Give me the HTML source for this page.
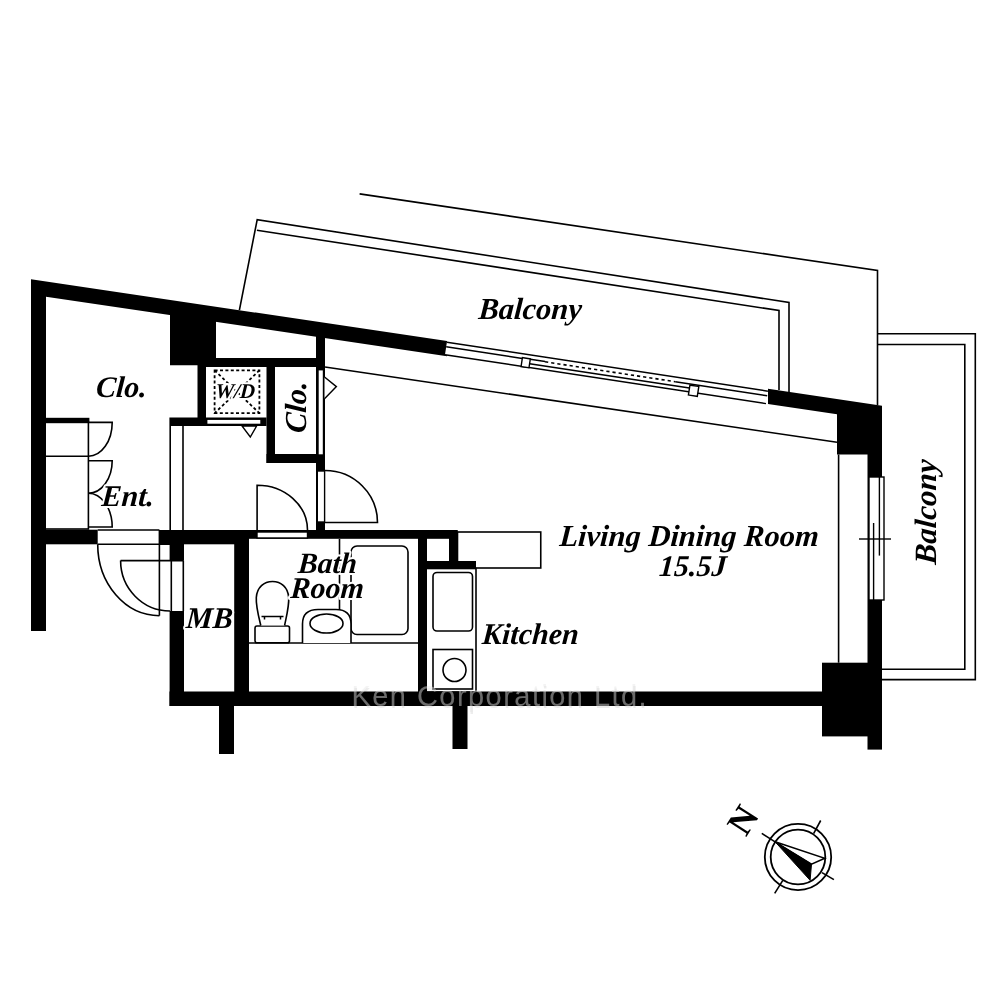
<!DOCTYPE html>
<html><head><meta charset="utf-8"><style>
html,body{margin:0;padding:0;background:#fff;width:1000px;height:1000px;overflow:hidden}
svg{display:block;will-change:transform}
</style></head><body>
<svg width="1000" height="1000" viewBox="0 0 1000 1000">
<rect width="1000" height="1000" fill="#fff"/>
<path d="M359.60,193.90 L877.50,270.50 L877.50,405.00" fill="none" stroke="#000" stroke-width="1.6"/>
<path d="M239.40,310.10 L257.20,219.60 L789.00,302.50 L789.00,392.50" fill="none" stroke="#000" stroke-width="1.6"/>
<path d="M256.90,230.20 L779.00,310.50 L779.00,390.00" fill="none" stroke="#000" stroke-width="1.6"/>
<path d="M877.50,333.75 L975.30,333.75 L975.30,679.60 L882.00,679.60" fill="none" stroke="#000" stroke-width="1.6"/>
<path d="M877.50,344.50 L964.80,344.50 L964.80,669.30 L882.00,669.30" fill="none" stroke="#000" stroke-width="1.6"/>
<rect x="31.00" y="294.64" width="15.00" height="336.36" fill="#000"/>
<polygon points="31.00,279.21 447.00,341.07 447.00,356.27 46.00,296.64 31.00,296.64" fill="#000"/>
<polygon points="768.00,388.80 882.00,405.75 882.00,477.00 867.50,477.00 867.50,454.50 837.00,454.50 837.00,414.26 768.00,404.00" fill="#000"/>
<polygon points="170.00,314.08 216.00,320.92 216.00,365.20 170.00,365.20" fill="#000"/>
<rect x="197.50" y="363.00" width="8.50" height="63.00" fill="#000"/>
<rect x="206.00" y="358.00" width="119.00" height="9.00" fill="#000"/>
<rect x="316.00" y="335.79" width="9.00" height="195.21" fill="#000"/>
<rect x="266.50" y="366.00" width="8.50" height="97.00" fill="#000"/>
<rect x="266.50" y="454.00" width="58.50" height="9.00" fill="#000"/>
<rect x="169.40" y="417.50" width="97.10" height="8.50" fill="#000"/>
<rect x="44.50" y="417.80" width="44.90" height="4.60" fill="#000"/>
<rect x="31.00" y="529.70" width="66.70" height="14.60" fill="#000"/>
<rect x="159.40" y="530.00" width="89.60" height="14.30" fill="#000"/>
<rect x="169.60" y="544.00" width="14.40" height="16.60" fill="#000"/>
<rect x="169.60" y="611.00" width="14.40" height="95.00" fill="#000"/>
<rect x="234.20" y="544.00" width="14.80" height="162.00" fill="#000"/>
<rect x="249.00" y="530.00" width="208.50" height="8.80" fill="#000"/>
<rect x="418.00" y="530.00" width="9.00" height="162.00" fill="#000"/>
<rect x="418.00" y="561.00" width="58.00" height="7.50" fill="#000"/>
<rect x="449.00" y="530.00" width="8.50" height="38.50" fill="#000"/>
<rect x="169.50" y="691.50" width="652.50" height="14.50" fill="#000"/>
<rect x="219.00" y="706.00" width="15.00" height="48.00" fill="#000"/>
<rect x="452.50" y="706.00" width="15.00" height="43.00" fill="#000"/>
<rect x="822.00" y="662.70" width="60.00" height="73.70" fill="#000"/>
<rect x="867.50" y="600.00" width="14.50" height="149.60" fill="#000"/>
<rect x="867.50" y="477.00" width="14.50" height="123.00" fill="#000"/>
<rect x="206.70" y="419.20" width="54.30" height="5.20" rx="0" fill="#fff" stroke="#000" stroke-width="1.4"/>
<rect x="318.00" y="369.70" width="5.50" height="85.30" rx="0" fill="#fff" stroke="#000" stroke-width="1.4"/>
<rect x="317.30" y="471.00" width="7.30" height="51.00" rx="0" fill="#fff" stroke="#000" stroke-width="1.4"/>
<rect x="257.00" y="532.00" width="50.50" height="6.00" rx="0" fill="#fff" stroke="#000" stroke-width="1.4"/>
<rect x="869.00" y="477.00" width="15.00" height="123.00" rx="0" fill="#fff" stroke="#000" stroke-width="1.4"/>
<path d="M873.60,523.00 L873.60,600.00" fill="none" stroke="#000" stroke-width="1.4"/>
<path d="M879.40,477.00 L879.40,555.60" fill="none" stroke="#000" stroke-width="1.4"/>
<path d="M859.00,539.00 L891.00,539.00" fill="none" stroke="#000" stroke-width="1.4"/>
<g transform="translate(447,341.5) rotate(8.676)"><rect x="0" y="0" width="324.72" height="13.6" fill="#fff"/><path d="M0,0.7 H324.72 M0,13.3 H324.72 M0,5.4 H77 M85,5 H100 M231.72,5.3 H324.72 M85,9.5 H246.72 " stroke="#000" stroke-width="1.5" fill="none"/><path d="M100,5.3 H231.72" stroke="#000" stroke-width="1.6" stroke-dasharray="3.2,3" fill="none"/><rect x="77" y="4.6" width="8" height="9" fill="#fff" stroke="#000" stroke-width="1.4"/><rect x="246.72" y="6.5" width="9" height="10" fill="#fff" stroke="#000" stroke-width="1.4"/></g>
<path d="M325.00,367.00 L837.00,442.30" fill="none" stroke="#000" stroke-width="1.6"/>
<path d="M838.60,454.50 L838.60,662.70" fill="none" stroke="#000" stroke-width="1.6"/>
<path d="M170.20,426.00 L170.20,530.00" fill="none" stroke="#000" stroke-width="1.6"/>
<path d="M183.00,426.00 L183.00,530.00" fill="none" stroke="#000" stroke-width="1.6"/>
<rect x="44.50" y="422.40" width="43.90" height="106.60" rx="0" fill="none" stroke="#000" stroke-width="1.6"/>
<path d="M44.50,456.20 L88.40,456.20" fill="none" stroke="#000" stroke-width="1.6"/>
<path d="M88.4,422.4 H112.2 A23.8,33.8 0 0 1 88.4,456.2" fill="none" stroke="#000" stroke-width="1.6"/>
<path d="M88.4,460.7 H112.2 A23.8,32.5 0 0 1 88.4,493.2" fill="none" stroke="#000" stroke-width="1.6"/>
<path d="M88.4,527 H112.2 A23.8,33.8 0 0 0 88.4,493.2" fill="none" stroke="#000" stroke-width="1.6"/>
<path d="M97.70,530.00 L159.40,530.00" fill="none" stroke="#000" stroke-width="1.6"/>
<path d="M97.70,544.30 L170.00,544.30" fill="none" stroke="#000" stroke-width="1.6"/>
<path d="M159.40,530.00 L159.40,615.70" fill="none" stroke="#000" stroke-width="1.6"/>
<path d="M97.7,544.3 A61.7,71.4 0 0 0 159.4,615.7" fill="none" stroke="#000" stroke-width="1.6"/>
<path d="M120.60,560.60 L183.50,560.60" fill="none" stroke="#000" stroke-width="1.6"/>
<path d="M120.6,560.6 A49.4,50.4 0 0 0 170,611" fill="none" stroke="#000" stroke-width="1.6"/>
<path d="M171.30,560.60 L171.30,611.00" fill="none" stroke="#000" stroke-width="1.6"/>
<path d="M183.30,560.60 L183.30,611.00" fill="none" stroke="#000" stroke-width="1.6"/>
<path d="M257.1,530 V485.2 A50.4,44.8 0 0 1 307.5,530" fill="none" stroke="#000" stroke-width="1.6"/>
<path d="M325,522.5 H377.5 A52.5,52 0 0 0 325,470.5" fill="none" stroke="#000" stroke-width="1.6"/>
<path d="M242,426 L256.6,426 L250.3,437 Z" fill="#fff" stroke="#000" stroke-width="1.4"/>
<path d="M324.5,377 L336.4,386.6 L324.5,398.8" fill="#fff" stroke="#000" stroke-width="1.4"/>
<g stroke="#000" stroke-width="1.8" fill="none" stroke-dasharray="3,2.4"><rect x="214.6" y="370.4" width="44.8" height="42.8"/><path d="M214.6,370.4 L259.4,413.2 M259.4,370.4 L214.6,413.2"/></g>
<rect x="457.50" y="532.00" width="83.25" height="36.00" rx="0" fill="none" stroke="#000" stroke-width="1.6"/>
<rect x="426.00" y="568.50" width="50.00" height="123.50" rx="0" fill="none" stroke="#000" stroke-width="1.6"/>
<rect x="433.00" y="572.50" width="39.50" height="58.50" rx="4" fill="none" stroke="#000" stroke-width="1.6"/>
<rect x="433.00" y="649.50" width="39.50" height="39.50" rx="0" fill="none" stroke="#000" stroke-width="1.6"/>
<circle cx="454.5" cy="670" r="11.5" fill="none" stroke="#000" stroke-width="1.6"/>
<path d="M249.00,643.00 L418.00,643.00" fill="none" stroke="#000" stroke-width="1.6"/>
<path d="M339.50,539.00 L339.50,643.00" fill="none" stroke="#000" stroke-width="1.6"/>
<rect x="351.00" y="546.00" width="57.00" height="88.50" rx="6" fill="#fff" stroke="#000" stroke-width="1.6"/>
<path d="M302.5,643 V624 Q302.5,609.5 318,609.5 H336 Q351,609.5 351,624 V643" fill="#fff" stroke="#000" stroke-width="1.6"/>
<ellipse cx="326.5" cy="623.5" rx="16.5" ry="9.5" fill="none" stroke="#000" stroke-width="1.6"/>
<rect x="255.00" y="626.00" width="34.50" height="16.80" rx="2" fill="#fff" stroke="#000" stroke-width="1.6"/>
<path d="M260.8,625.5 C258.5,616 255.8,606 256.3,597.5 C257,587 264,581.5 272.5,581.5 C281,581.5 288,587 288.7,597.5 C289.2,606 286.5,616 284.6,625.5" fill="#fff" stroke="#000" stroke-width="1.6"/>
<path d="M261.5,616.6 H283.5 M264.5,616.6 V619.5 M280.5,616.6 V619.5" fill="none" stroke="#000" stroke-width="1.5"/>
<circle cx="798" cy="857" r="33.2" fill="none" stroke="#000" stroke-width="1.8"/>
<circle cx="798" cy="857" r="27.3" fill="none" stroke="#000" stroke-width="1.8"/>
<path d="M761.80,833.40 L775.50,842.20" fill="none" stroke="#000" stroke-width="1.6"/>
<path d="M822.00,872.60 L833.90,879.60" fill="none" stroke="#000" stroke-width="1.6"/>
<path d="M820.70,820.50 L813.60,833.60" fill="none" stroke="#000" stroke-width="1.6"/>
<path d="M782.80,880.30 L774.70,893.30" fill="none" stroke="#000" stroke-width="1.6"/>
<path d="M775.1,841.8 L824.8,858.3 L811.5,864.2 Z" fill="#fff" stroke="#000" stroke-width="1.5"/>
<path d="M775.1,841.8 L811.5,864.2 L810.1,880.3 Z" fill="#000" stroke="#000" stroke-width="1.0"/>
<g font-family="Liberation Serif" font-weight="bold" font-style="italic" fill="#fff" stroke="#fff" stroke-width="4" stroke-linejoin="round">
<text x="0" y="0" font-size="30.5" transform="translate(478,319) skewX(-4)" text-anchor="start" letter-spacing="0" >Balcony</text>
<text x="0" y="0" font-size="30" transform="translate(95.5,397) skewX(-4)" text-anchor="start" letter-spacing="0" >Clo.</text>
<text x="0" y="0" font-size="21" transform="translate(215,398.4) skewX(-4)" text-anchor="start" letter-spacing="0" >W/D</text>
<text x="0" y="0" font-size="30" transform="translate(101,505.6) skewX(-4)" text-anchor="start" letter-spacing="0" >Ent.</text>
<text x="0" y="0" font-size="30" transform="translate(185.5,628) skewX(-4)" text-anchor="start" letter-spacing="0" >MB</text>
<text x="0" y="0" font-size="29.5" transform="translate(297.5,572.5) skewX(-4)" text-anchor="start" letter-spacing="0" >Bath</text>
<text x="0" y="0" font-size="30" transform="translate(290,598) skewX(-4)" text-anchor="start" letter-spacing="0" >Room</text>
<text x="0" y="0" font-size="30" transform="translate(481.5,643.6) skewX(-4)" text-anchor="start" letter-spacing="0" >Kitchen</text>
<text x="0" y="0" font-size="30.5" transform="translate(559,545.6) skewX(-4)" text-anchor="start" letter-spacing="0" >Living Dining Room</text>
<text x="0" y="0" font-size="30" transform="translate(658.5,576) skewX(-4)" text-anchor="start" letter-spacing="0" >15.5J</text>
<text x="0" y="0" font-size="30.5" transform="translate(306.3,433.5) rotate(-90) skewX(-4)">Clo.</text>
<text x="0" y="0" font-size="31" transform="translate(936,565) rotate(-90) skewX(-4)">Balcony</text>
<text x="0" y="11.2" font-size="36" font-style="normal" stroke="none" transform="translate(743.5,820.5) rotate(-57.4)" text-anchor="middle">N</text>
</g>
<g font-family="Liberation Serif" font-weight="bold" font-style="italic" fill="#000" stroke="#000" stroke-width="0" stroke-linejoin="round">
<text x="0" y="0" font-size="30.5" transform="translate(478,319) skewX(-4)" text-anchor="start" letter-spacing="0" >Balcony</text>
<text x="0" y="0" font-size="30" transform="translate(95.5,397) skewX(-4)" text-anchor="start" letter-spacing="0" >Clo.</text>
<text x="0" y="0" font-size="21" transform="translate(215,398.4) skewX(-4)" text-anchor="start" letter-spacing="0" >W/D</text>
<text x="0" y="0" font-size="30" transform="translate(101,505.6) skewX(-4)" text-anchor="start" letter-spacing="0" >Ent.</text>
<text x="0" y="0" font-size="30" transform="translate(185.5,628) skewX(-4)" text-anchor="start" letter-spacing="0" >MB</text>
<text x="0" y="0" font-size="29.5" transform="translate(297.5,572.5) skewX(-4)" text-anchor="start" letter-spacing="0" >Bath</text>
<text x="0" y="0" font-size="30" transform="translate(290,598) skewX(-4)" text-anchor="start" letter-spacing="0" >Room</text>
<text x="0" y="0" font-size="30" transform="translate(481.5,643.6) skewX(-4)" text-anchor="start" letter-spacing="0" >Kitchen</text>
<text x="0" y="0" font-size="30.5" transform="translate(559,545.6) skewX(-4)" text-anchor="start" letter-spacing="0" >Living Dining Room</text>
<text x="0" y="0" font-size="30" transform="translate(658.5,576) skewX(-4)" text-anchor="start" letter-spacing="0" >15.5J</text>
<text x="0" y="0" font-size="30.5" transform="translate(306.3,433.5) rotate(-90) skewX(-4)">Clo.</text>
<text x="0" y="0" font-size="31" transform="translate(936,565) rotate(-90) skewX(-4)">Balcony</text>
<text x="0" y="11.2" font-size="36" font-style="normal" stroke="none" transform="translate(743.5,820.5) rotate(-57.4)" text-anchor="middle">N</text>
</g>
<g font-family="Liberation Sans" font-size="29" letter-spacing="1.45">
<text x="352" y="708" fill="#000" fill-opacity="0.07">Ken Corporation Ltd.</text>
<text x="351.5" y="705.8" fill="#000" fill-opacity="0.08">Ken Corporation Ltd.</text>
<text x="351.5" y="705.8" fill="#fff" fill-opacity="0.42">Ken Corporation Ltd.</text>
</g>
</svg>
</body></html>
